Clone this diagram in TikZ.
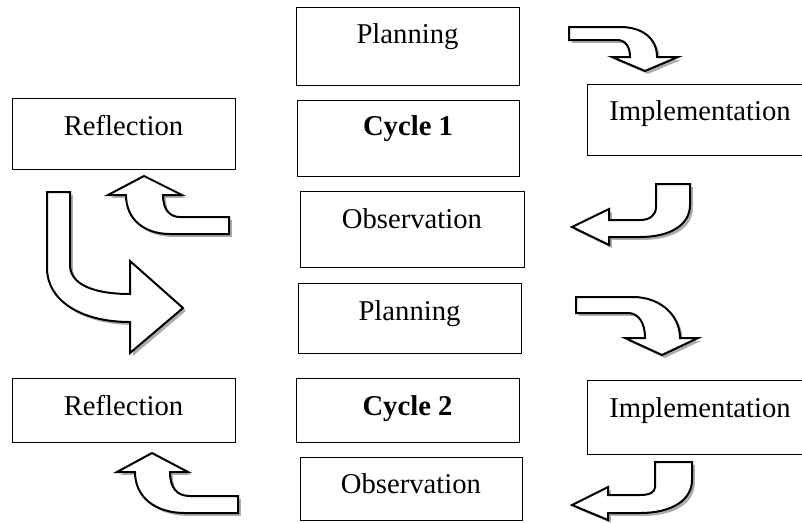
\documentclass[tikz,border=0pt]{standalone}
\usepackage{fontspec}
\setmainfont{Liberation Serif}
\usetikzlibrary{shadows}
\tikzset{
  box/.style={draw, line width=1.1pt, inner sep=0pt, anchor=north west},
  lbl/.style={anchor=base, inner sep=0pt, font=\fontsize{21.5}{26}\selectfont},
  bentarrow/.style={draw, line width=1.5pt, fill=white, line join=miter,
    drop shadow={shadow xshift=2.2pt, shadow yshift=-2.2pt, fill=black!32, opacity=1}}
}
\newcommand\mkbox[5]{\node[box, minimum width={(#4-#2)*0.75pt}, minimum height={(#5-#3)*0.75pt}] (#1) at (#2,#3) {};}
\begin{document}
\begin{tikzpicture}[x=0.75pt, y=-0.75pt]
\clip (0,0) rectangle (802,522);
\fill[white] (0,0) rectangle (802,522);
% boxes
\mkbox{p1}{296}{7}{519}{85}
\mkbox{r1}{12}{98}{235}{169}
\mkbox{c1}{297}{100}{519}{176}
\mkbox{i1}{587}{84}{813}{155}
\mkbox{o1}{300}{191}{524}{267}
\mkbox{p2}{298}{283}{521}{353}
\mkbox{r2}{12}{378}{235}{442}
\mkbox{c2}{296}{378}{519}{442}
\mkbox{i2}{587}{380}{813}{454}
\mkbox{o2}{300}{457}{522}{520}
% labels
\node[lbl] (tp1) at (407.5,43) {Planning};
\node[lbl] (tr1) at (123.5,135) {Reflection};
\node[lbl] (tc1) at (408,135) {\bfseries Cycle 1};
\node[lbl] (ti1) at (700,120) {Implementation};
\node[lbl] (to1) at (412,228) {Observation};
\node[lbl] (tp2) at (409.5,320) {Planning};
\node[lbl] (tr2) at (123.5,415) {Reflection};
\node[lbl] (tc2) at (407.5,415) {\bfseries Cycle 2};
\node[lbl] (ti2) at (700,417) {Implementation};
\node[lbl] (to2) at (411,493) {Observation};
% arrows
\path[bentarrow] (569,27) -- (620,27) .. controls (642,27) and (657,38) .. (657,57)
  -- (678,57) -- (645,71) -- (612,57) -- (630,57) .. controls (630,46) and (625,40) .. (617,40)
  -- (569,40) -- cycle;
\path[bentarrow] (656,184) -- (690,184) -- (690,205) .. controls (690,225) and (670,237) .. (640,237)
  -- (609,237) -- (609,245) -- (572,227) -- (609,209) -- (609,220) -- (640,220)
  .. controls (650,220) and (656,215) .. (656,207) -- cycle;
\path[bentarrow] (229,217) -- (229,234) -- (170,234) .. controls (145,234) and (126,220) .. (126,195)
  -- (108,195) -- (144,176) -- (182,195) -- (163,195) .. controls (163,210) and (170,217) .. (180,217)
  -- cycle;
\path[bentarrow] (47,192) -- (70,192) -- (70,265) .. controls (70,285) and (95,294) .. (130,294)
  -- (130,261) -- (183,308) -- (130,353) -- (130,322) .. controls (80,322) and (47,300) .. (47,268)
  -- cycle;
\path[bentarrow] (576,297) -- (633,297) .. controls (660,297) and (680,315) .. (680,338)
  -- (698,338) -- (662,355) -- (625,338) -- (645,338) .. controls (645,322) and (638,313) .. (628,313)
  -- (576,313) -- cycle;
\path[bentarrow] (655,462) -- (692,462) -- (692,480) .. controls (692,500) and (672,513) .. (640,513)
  -- (608,513) -- (608,520) -- (572,505) -- (608,487) -- (608,495) -- (640,495)
  .. controls (650,495) and (655,492) .. (655,487) -- cycle;
\path[bentarrow] (238,496) -- (238,513) -- (185,513) .. controls (155,513) and (135,497) .. (135,472)
  -- (117,472) -- (152,453) -- (188,472) -- (170,472) .. controls (170,488) and (177,496) .. (190,496)
  -- cycle;
\end{tikzpicture}
\end{document}
